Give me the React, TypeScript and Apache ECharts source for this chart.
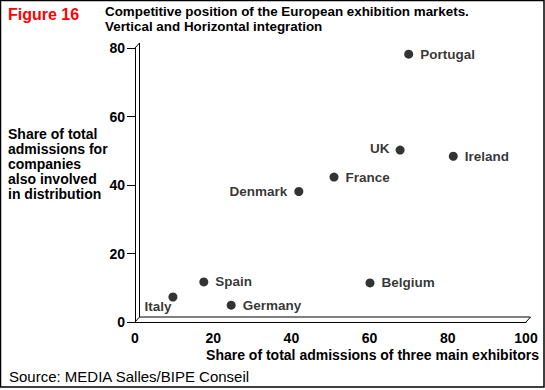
import React, { useEffect, useRef } from "react";
import * as echarts from "echarts";

const countries = ["Portugal", "UK", "Ireland", "France", "Denmark", "Spain", "Belgium", "Italy", "Germany"];
const xValues = [70.0, 67.8, 81.4, 50.9, 41.9, 17.6, 60.1, 9.7, 24.6];
const yValues = [78.2, 50.2, 48.4, 42.3, 38.1, 11.7, 11.4, 7.3, 4.9];
const xTicks = [0, 20, 40, 60, 80, 100];
const yTicks = [0, 20, 40, 60, 80];

const FONT = "'Liberation Sans', Arial, Helvetica, sans-serif";

export default function App() {
  const ref = useRef<HTMLDivElement>(null);

  useEffect(() => {
    if (!ref.current) return;
    const chart = echarts.init(ref.current, undefined, { renderer: "svg" });

    const W = 545;
    const H = 390;
    const gl = 135, gt = 48, gr = 19, gb = 68;
    const px0 = gl, px1 = W - gr, py0 = H - gb, py1 = gt;
    const dx = 4.5, dy = -5;

    const leftSide: Record<string, any> = {
      UK: { position: "left", distance: 6, offset: [0, -2] },
      Denmark: { position: "left", distance: 7 },
      Italy: { position: "left", distance: -3, offset: [0, 10] },
    };

    const data = countries.map((name, i) => ({
      name,
      value: [xValues[i], yValues[i]],
      label: leftSide[name] || { position: "right", distance: 7 },
    }));

    const line = (x1: number, y1: number, x2: number, y2: number) => ({
      type: "line",
      shape: { x1, y1, x2, y2 },
      style: { stroke: "#000", lineWidth: 1 },
      silent: true,
    });

    chart.setOption({
      animation: false,
      backgroundColor: "#fff",
      title: [
        {
          text: "Figure 16",
          left: 8,
          top: 6,
          padding: 0,
          textStyle: { color: "#ff0000", fontSize: 16, fontWeight: "bold", fontFamily: FONT },
        },
        {
          text: "Competitive position of the European exhibition markets.\nVertical and Horizontal integration",
          left: 105,
          top: 4,
          padding: 0,
          textStyle: { color: "#000", fontSize: 13.4, fontWeight: "bold", fontFamily: FONT, lineHeight: 15 },
        },
      ],
      grid: { left: gl, right: gr, top: gt, bottom: gb, containLabel: false },
      xAxis: {
        type: "value",
        min: xTicks[0],
        max: xTicks[xTicks.length - 1],
        interval: 20,
        axisLine: { show: true, lineStyle: { color: "#000", width: 1 } },
        axisTick: { show: false },
        splitLine: { show: false },
        axisLabel: { color: "#000", fontSize: 14, fontWeight: "bold", fontFamily: FONT, margin: 9 },
      },
      yAxis: {
        type: "value",
        min: yTicks[0],
        max: yTicks[yTicks.length - 1],
        interval: 20,
        axisLine: { show: true, lineStyle: { color: "#000", width: 1 } },
        axisTick: { show: true, length: 8, inside: false, lineStyle: { color: "#000", width: 1 } },
        splitLine: { show: false },
        axisLabel: { color: "#000", fontSize: 14, fontWeight: "bold", fontFamily: FONT, margin: 10 },
      },
      series: [
        {
          type: "scatter",
          symbol: "circle",
          symbolSize: 9,
          itemStyle: { color: "#000" },
          label: {
            show: true,
            formatter: "{b}",
            color: "#000",
            fontSize: 13.5,
            fontWeight: "bold",
            fontFamily: FONT,
          },
          data,
        },
      ],
      graphic: [
        {
          type: "rect",
          shape: { x: 0.5, y: 0.5, width: 543.5, height: 386.5 },
          style: { fill: "none", stroke: "#000", lineWidth: 1.5 },
          silent: true,
          z: -1,
        },
        line(px0 + dx, py1 + dy, px0 + dx, py0 + dy),
        line(px0, py1, px0 + dx, py1 + dy),
        line(px0 + dx, py0 + dy, px1 + dx, py0 + dy),
        line(px0, py0, px0 + dx, py0 + dy),
        line(px1, py0, px1 + dx, py0 + dy),
        {
          type: "text",
          left: 8,
          top: 126,
          style: {
            text: "Share of total\nadmissions for\ncompanies\nalso involved\nin distribution",
            fill: "#000",
            font: `bold 14px ${FONT}`,
            lineHeight: 15,
          },
        },
        {
          type: "text",
          right: 6,
          top: 348,
          style: {
            text: "Share of total admissions of three main exhibitors",
            fill: "#000",
            font: `bold 14px ${FONT}`,
          },
        },
        {
          type: "text",
          left: 9,
          top: 369,
          style: {
            text: "Source: MEDIA Salles/BIPE Conseil",
            fill: "#000",
            font: `15px ${FONT}`,
          },
        },
      ],
    });

    return () => chart.dispose();
  }, []);

  return (
    <div
      ref={ref}
      style={{ position: "fixed", left: 0, top: 0, width: 545, height: 390, background: "#fff" }}
    />
  );
}
